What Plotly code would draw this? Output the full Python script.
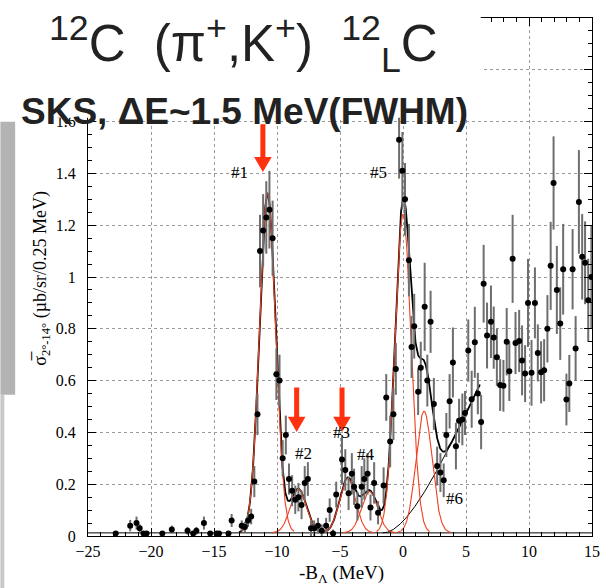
import numpy as np
import plotly.graph_objects as go

# ---------------- data ----------------
x_pts = [-22.8, -21.65, -21.15, -20.9, -20.6, -20.35, -19.1, -18.35, -17.1, -16.65,
         -16.4, -15.8, -15.3, -14.8, -14.6, -13.85, -13.6, -12.8, -12.55, -12.3,
         -12.05, -11.8, -11.55, -11.35, -11.1, -10.85, -10.6, -10.35, -10.05, -9.8,
         -9.55, -9.3, -9.05, -8.8, -8.55, -8.3, -8.05, -7.8, -7.55, -7.3,
         -7.05, -6.75, -6.45, -6.1, -5.82, -5.55, -5.3, -4.84, -4.58, -4.32,
         -4.06, -3.88, -3.62, -3.28, -3.07, -2.81, -2.58, -2.29, -1.98, -1.54,
         -1.33, -1.02, -0.76, -0.57, -0.31, -0.05, 0.16, 0.47, 0.68, 0.89,
         1.2, 1.41, 1.72, 1.93, 2.19, 2.45, 2.71, 2.97, 3.23, 3.44,
         3.7, 3.96, 4.2, 4.45, 4.71, 4.92, 5.18, 5.45, 5.7, 5.94,
         6.2, 6.4, 6.67, 6.98, 7.2, 7.45, 7.71, 7.97, 8.23, 8.44,
         8.7, 8.93, 9.22, 9.45, 9.69, 9.92, 10.2, 10.47, 10.7, 10.96,
         11.2, 11.46, 11.72, 11.95, 12.21, 12.48, 12.71, 12.97, 13.2, 13.46,
         13.7, 13.96, 14.22, 14.45, 14.7, 14.95]
y_pts = [0.01, 0.04, 0.05, 0.03, 0.01, 0.01, 0.01, 0.025, 0.02, 0.01,
         0.02, 0.05, 0.01, 0.01, 0.01, 0.01, 0.06, 0.04, 0.035, 0.06,
         0.075, 0.21, 0.47, 1.10, 1.18, 1.23, 1.26, 1.15, 0.625, 0.60,
         0.30, 0.39, 0.22, 0.175, 0.14, 0.15, 0.12, 0.205, 0.22, 0.03,
         0.03, 0.04, 0.02, 0.04, 0.10, 0.01, 0.16, 0.295, 0.255, 0.165,
         0.24, 0.19, 0.115, 0.19, 0.22, 0.24, 0.11, 0.205, 0.09, 0.195,
         0.535, 0.365, 0.47, 0.645, 1.53, 1.41, 1.30, 1.065, 0.73, 0.81,
         0.557, 0.65, 0.885, 0.60, 0.827, 0.51, 0.27, 0.245, 0.215, 0.39,
         0.52, 0.67, 0.347, 0.445, 0.45, 0.475, 0.716, 0.528, 0.748, 0.55,
         0.44, 0.974, 0.774, 0.827, 0.766, 0.69, 0.583, 0.58, 0.75, 0.636,
         1.07, 0.745, 0.753, 0.678, 0.627, 0.90, 0.63, 0.90, 0.707, 0.632,
         0.64, 0.80, 1.043, 1.363, 0.95, 0.82, 1.03, 0.527, 0.589, 1.03,
         0.724, 1.29, 1.078, 1.055, 0.91, 1.0]
y_err = [0.0, 0.022, 0.025, 0.015, 0.0, 0.0, 0.0, 0.015, 0.015, 0.0,
         0.015, 0.025, 0.0, 0.0, 0.0, 0.0, 0.025, 0.02, 0.02, 0.025,
         0.03, 0.06, 0.08, 0.14, 0.14, 0.14, 0.15, 0.145, 0.10, 0.10,
         0.07, 0.075, 0.06, 0.06, 0.055, 0.055, 0.055, 0.065, 0.065, 0.03,
         0.03, 0.03, 0.025, 0.03, 0.045, 0.015, 0.05, 0.095, 0.08, 0.065,
         0.08, 0.07, 0.055, 0.08, 0.08, 0.08, 0.05, 0.08, 0.045, 0.07,
         0.09, 0.10, 0.10, 0.10, 0.15, 0.15, 0.14, 0.14, 0.12, 0.125,
         0.09, 0.10, 0.17, 0.10, 0.12, 0.10, 0.075, 0.075, 0.065, 0.085,
         0.105, 0.135, 0.09, 0.085, 0.10, 0.085, 0.12, 0.11, 0.137, 0.08,
         0.105, 0.15, 0.127, 0.14, 0.12, 0.11, 0.10, 0.10, 0.13, 0.115,
         0.17, 0.12, 0.12, 0.135, 0.11, 0.17, 0.127, 0.137, 0.11, 0.12,
         0.12, 0.13, 0.17, 0.18, 0.17, 0.14, 0.175, 0.10, 0.11, 0.155,
         0.125, 0.20, 0.165, 0.16, 0.16, 0.20]

# fit components (Gaussian peaks, FWHM ~1.5 MeV) and background
peak_centers = [-10.75, -8.3, -4.4, -2.65, 0.0, 1.67]
peak_heights = [1.31, 0.17, 0.21, 0.16, 1.23, 0.47]
peak_sigma = 0.637
baseline = 0.012
bg_start, bg_scale, bg_slope = -1.6, 2.5, 0.1077
fit_lo, fit_hi = -13.0, 6.1

# labels and arrows
peak_labels = ["#1", "#2", "#3", "#4", "#5", "#6"]
label_x = [-13.0, -7.9, -4.9, -2.9, -1.95, 4.1]
label_y = [1.405, 0.317, 0.40, 0.316, 1.405, 0.144]
arrow_x = [-11.12, -8.44, -4.84]
arrow_top = [1.59, 0.573, 0.573]
arrow_tip = [1.405, 0.402, 0.402]

RED = "#f0401e"
ARROW_RED = "#ff3210"


def gauss(x, c, h):
    return h * np.exp(-0.5 * ((x - c) / peak_sigma) ** 2)


def background(x):
    u = np.clip(x - bg_start, 0, None)
    return bg_slope * (u - bg_scale * (1 - np.exp(-u / bg_scale)))


fig = go.Figure()

# baseline line
fig.add_trace(go.Scatter(x=[-25, 15], y=[baseline, baseline], mode="lines",
                         line=dict(color="black", width=1), hoverinfo="skip"))

# total fit
xf = np.linspace(fit_lo, fit_hi, 800)
total = baseline + background(xf) + sum(gauss(xf, c, h) for c, h in zip(peak_centers, peak_heights))
fig.add_trace(go.Scatter(x=xf, y=total, mode="lines", line=dict(color="black", width=1.8),
                         hoverinfo="skip"))

# background
xb = np.linspace(bg_start, fit_hi, 300)
fig.add_trace(go.Scatter(x=xb, y=baseline + background(xb), mode="lines",
                         line=dict(color="black", width=1), hoverinfo="skip"))

# individual peaks
for c, h in zip(peak_centers, peak_heights):
    xg = np.linspace(c - 2.1, c + 2.1, 200)
    fig.add_trace(go.Scatter(x=xg, y=baseline + gauss(xg, c, h), mode="lines",
                             line=dict(color=RED, width=1.1), hoverinfo="skip"))

# data points
fig.add_trace(go.Scatter(x=x_pts, y=y_pts, mode="markers",
                         marker=dict(color="black", size=6),
                         error_y=dict(type="data", array=y_err, color="#6e6e6e",
                                      thickness=2, width=0)))

shapes = []
# red arrows
hw, sw, hh = 0.70, 0.20, 0.058
for ax, at, tip in zip(arrow_x, arrow_top, arrow_tip):
    hb = tip + hh
    path = (f"M {ax - sw},{at} L {ax + sw},{at} L {ax + sw},{hb} L {ax + hw},{hb} "
            f"L {ax},{tip} L {ax - hw},{hb} L {ax - sw},{hb} Z")
    shapes.append(dict(type="path", path=path, xref="x", yref="y",
                       fillcolor=ARROW_RED, line=dict(width=0), layer="above"))


def px_to_paper_x(px):
    return (px - 88) / 512


def py_to_paper_y(py):
    return (536 - py) / 524


# white title box (slide overlay)
shapes.append(dict(type="rect", xref="paper", yref="paper",
                   x0=px_to_paper_x(-2), x1=px_to_paper_x(487),
                   y0=py_to_paper_y(113), y1=py_to_paper_y(-2),
                   fillcolor="white", line=dict(width=0), layer="above"))
# grey strip at left (slide background)
shapes.append(dict(type="rect", xref="paper", yref="paper",
                   x0=px_to_paper_x(-1), x1=px_to_paper_x(14),
                   y0=py_to_paper_y(393), y1=py_to_paper_y(117),
                   fillcolor="#b3b3b3", line=dict(width=0), layer="above"))
shapes.append(dict(type="rect", xref="paper", yref="paper",
                   x0=px_to_paper_x(-1), x1=px_to_paper_x(3),
                   y0=py_to_paper_y(590), y1=py_to_paper_y(393),
                   fillcolor="#c8c8c8", line=dict(width=0), layer="above"))

annotations = []
serif = "Liberation Serif, Times New Roman, serif"
for t, lx, ly in zip(peak_labels, label_x, label_y):
    annotations.append(dict(x=lx, y=ly, xref="x", yref="y", text=t, showarrow=False,
                            font=dict(family=serif, size=17, color="black")))

annotations.append(dict(
    x=px_to_paper_x(46), y=py_to_paper_y(0), xref="paper", yref="paper",
    xanchor="left", yanchor="top", showarrow=False,
    text="<sup>12</sup>C\u00a0 (π<sup>+</sup>,K<sup>+</sup>)\u00a0 <sup>12</sup><sub>L</sub>C",
    font=dict(family="Liberation Sans, Arial, sans-serif", size=51, color="#222222")))
annotations.append(dict(
    x=px_to_paper_x(18), y=py_to_paper_y(107), xref="paper", yref="paper",
    xanchor="left", yanchor="middle", showarrow=False,
    text="<b>SKS, ΔE~1.5 MeV(FWHM)</b>",
    font=dict(family="Liberation Sans, Arial, sans-serif", size=37, color="#222222")))
annotations.append(dict(
    x=px_to_paper_x(41), y=py_to_paper_y(275), xref="paper", yref="paper",
    xanchor="center", yanchor="middle", showarrow=False, textangle=-90,
    text="σ\u0305<sub>2°-14°</sub> (µb/sr/0.25 MeV)",
    font=dict(family=serif, size=18, color="black")))
annotations.append(dict(
    x=px_to_paper_x(346), y=py_to_paper_y(574), xref="paper", yref="paper",
    xanchor="center", yanchor="middle", showarrow=False,
    text="-B<sub>Λ</sub> (MeV)",
    font=dict(family=serif, size=19, color="black")))

axis_common = dict(
    ticks="inside", ticklen=8, tickwidth=1, tickcolor="black",
    showline=True, linecolor="black", linewidth=1, mirror="ticks",
    showgrid=True, gridcolor="#9a9a9a", gridwidth=1, griddash="dot",
    zeroline=False, tickfont=dict(family=serif, size=16, color="black"),
)

fig.update_layout(
    width=610, height=588,
    margin=dict(l=88, r=10, t=12, b=52),
    paper_bgcolor="white", plot_bgcolor="white",
    showlegend=False,
    xaxis=dict(range=[-25, 15], dtick=5, tick0=0, ticklabelstandoff=1,
               minor=dict(dtick=1, ticks="inside", ticklen=4, tickcolor="black", showgrid=False),
               **axis_common),
    yaxis=dict(range=[0, 2.0], dtick=0.2, tick0=0, ticklabelstandoff=8,
               minor=dict(dtick=0.05, ticks="inside", ticklen=4, tickcolor="black", showgrid=False),
               **axis_common),
    shapes=shapes,
    annotations=annotations,
)

fig.write_html("out.html",
               config={"displayModeBar": False},
               post_script="document.body.style.margin='0px';"
                           "document.body.style.overflow='hidden';")
